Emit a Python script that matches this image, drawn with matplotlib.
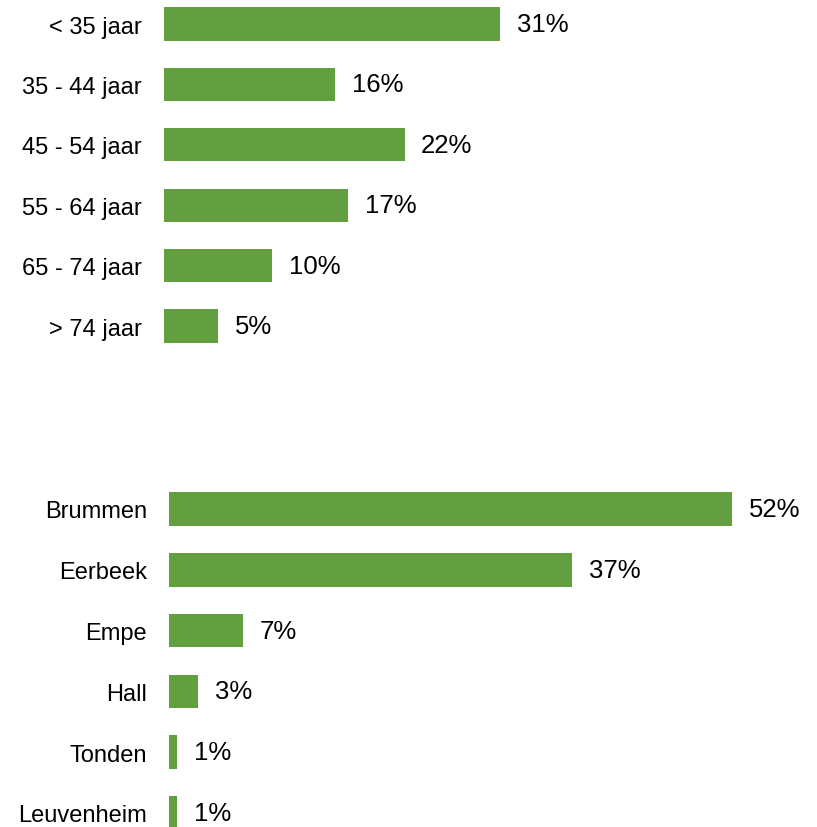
import matplotlib
matplotlib.use("Agg")
import matplotlib.pyplot as plt

plt.rcParams['font.family'] = ['Liberation Sans', 'DejaVu Sans']

age_labels = ["< 35 jaar", "35 - 44 jaar", "45 - 54 jaar", "55 - 64 jaar", "65 - 74 jaar", "> 74 jaar"]
age_values = [31, 15.8, 22.2, 17, 10, 5]

place_labels = ["Brummen", "Eerbeek", "Empe", "Hall", "Tonden", "Leuvenheim"]
place_values = [52, 37.2, 6.8, 2.7, 0.75, 0.75]

GREEN = "#62a03f"
W, H = 817, 828
fig = plt.figure(figsize=(W / 100, H / 100), dpi=100)


def panel(left_px, top_px, bottom_px, labels, values):
    ax = fig.add_axes([left_px / W, 1 - bottom_px / H, 650 / W, (bottom_px - top_px) / H])
    y = list(range(len(labels)))
    ax.barh(y, values, height=0.55, color=GREEN)
    ax.set_xlim(0, 60)
    ax.set_ylim(len(labels) - 0.5, -0.5)
    ax.set_yticks(y)
    ax.set_yticklabels(labels, fontsize=17)
    ax.tick_params(axis='y', length=0, pad=16)
    ax.set_xticks([])
    for s in ax.spines.values():
        s.set_visible(False)
    for yi, v in zip(y, values):
        ax.annotate(f"{round(v):d}%", (v, yi), xytext=(12, 0), textcoords='offset points',
                    va='center', ha='left', fontsize=18.5)
    return ax


panel(164, 25 - 30.2, 327 + 30.2, age_labels, age_values)
panel(169, 510 - 30.4, 814 + 30.4, place_labels, place_values)

fig.savefig("out.png", dpi=100)
